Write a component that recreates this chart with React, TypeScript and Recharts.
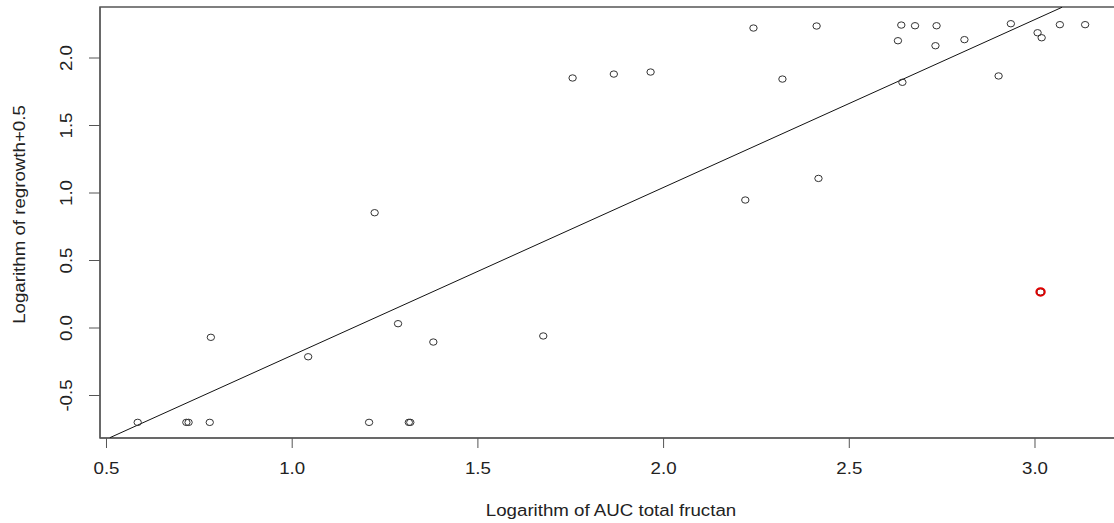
import { ReferenceArea, Scatter, ScatterChart, XAxis, YAxis } from 'recharts';

// log10 AUC total fructan vs log10(regrowth + 0.5)
const fructanLog = [
  0.584, 0.715, 0.721, 0.778, 1.207, 1.314, 1.318,
  0.781, 1.043, 1.222, 1.285, 1.38, 1.676, 1.755, 1.866, 1.965,
  2.22, 2.242, 2.32, 2.412, 2.417, 2.631, 2.64, 2.643, 2.677,
  2.732, 2.735, 2.81, 2.902, 2.935, 3.007, 3.018, 3.067, 3.135, 3.015,
];
const regrowthLog = [
  -0.699, -0.699, -0.699, -0.699, -0.699, -0.699, -0.699,
  -0.069, -0.213, 0.854, 0.032, -0.104, -0.059, 1.852, 1.881, 1.896,
  0.948, 2.222, 1.844, 2.237, 1.108, 2.128, 2.244, 1.82, 2.239,
  2.091, 2.239, 2.136, 1.867, 2.254, 2.187, 2.15, 2.247, 2.247, 0.267,
];
// highlighted observation
const outlierX = [3.015];
const outlierY = [0.267];

// fitted line y = a + b x, drawn between where it meets the plot box
const fitIntercept = -1.4456;
const fitSlope = 1.2436;
const fitEnds = [0.509, 3.073];

const xTicks = [0.5, 1.0, 1.5, 2.0, 2.5, 3.0];
const yTicks = [-0.5, 0.0, 0.5, 1.0, 1.5, 2.0];

const points = fructanLog.map((x, i) => ({ x, y: regrowthLog[i] }));
const outliers = outlierX.map((x, i) => ({ x, y: outlierY[i] }));
const fitLine = fitEnds.map((x) => ({ x, y: fitIntercept + fitSlope * x }));

const X_DOMAIN: [number, number] = [0.4825, 3.2289];
const Y_DOMAIN: [number, number] = [-0.8148, 2.3778];

const FONT = '"Liberation Sans", Arial, sans-serif';
const AXIS = '#555';
const INK = '#222';

function OpenCircle(props: { cx?: number; cy?: number }) {
  const { cx = 0, cy = 0 } = props;
  return <ellipse cx={cx} cy={cy} rx={3.7} ry={3.2} fill="none" stroke="#333" strokeWidth={1} />;
}

function RedCircle(props: { cx?: number; cy?: number }) {
  const { cx = 0, cy = 0 } = props;
  return <ellipse cx={cx} cy={cy} rx={4.2} ry={3.7} fill="none" stroke="#e00000" strokeWidth={2} />;
}

function NoShape() {
  return <g />;
}

function XTick(props: { x?: number; y?: number; payload?: { value: number } }) {
  const { x = 0, y = 0, payload } = props;
  return (
    <text
      transform={`translate(${x},${y + 24}) scale(1.1,1)`}
      textAnchor="middle"
      fontSize={17}
      fontFamily={FONT}
      fill={INK}
    >
      {payload ? payload.value.toFixed(1) : ''}
    </text>
  );
}

function YTick(props: { x?: number; y?: number; payload?: { value: number } }) {
  const { x = 0, y = 0, payload } = props;
  return (
    <text
      transform={`translate(${x - 15},${y}) rotate(-90) scale(1.1,1)`}
      textAnchor="middle"
      fontSize={17}
      fontFamily={FONT}
      fill={INK}
    >
      {payload ? payload.value.toFixed(1) : ''}
    </text>
  );
}

export default function App() {
  return (
    <div
      style={{
        position: 'absolute',
        left: 0,
        top: 0,
        width: 1114,
        height: 523,
        overflow: 'hidden',
        background: '#fff',
      }}
    >
      <ScatterChart width={1130} height={523} margin={{ top: 7, right: 10, bottom: 0, left: 0 }}>
        <XAxis
          type="number"
          dataKey="x"
          domain={X_DOMAIN}
          allowDataOverflow
          ticks={xTicks}
          interval={0}
          height={85}
          tickSize={10}
          stroke={AXIS}
          tick={<XTick />}
          label={{
            content: (p: { viewBox?: { x: number; y: number; width: number; height: number } }) => {
              const vb = p.viewBox || { x: 0, y: 0, width: 0, height: 0 };
              return (
                <text
                  transform={`translate(${vb.x + 511},${vb.y + 78}) scale(1.1,1)`}
                  textAnchor="middle"
                  fontSize={17}
                  fontFamily={FONT}
                  fill={INK}
                >
                  Logarithm of AUC total fructan
                </text>
              );
            },
          }}
        />
        <YAxis
          type="number"
          dataKey="y"
          domain={Y_DOMAIN}
          allowDataOverflow
          ticks={yTicks}
          interval={0}
          width={100}
          tickSize={11}
          stroke={AXIS}
          tick={<YTick />}
          label={{
            content: (p: { viewBox?: { x: number; y: number; width: number; height: number } }) => {
              const vb = p.viewBox || { x: 0, y: 0, width: 0, height: 0 };
              return (
                <text
                  transform={`translate(${vb.x + 25},${vb.y + vb.height / 2 - 8}) rotate(-90) scale(1.1,1)`}
                  textAnchor="middle"
                  fontSize={17}
                  fontFamily={FONT}
                  fill={INK}
                >
                  Logarithm of regrowth+0.5
                </text>
              );
            },
          }}
        />
        <ReferenceArea
          x1={X_DOMAIN[0]}
          x2={X_DOMAIN[1]}
          y1={Y_DOMAIN[0]}
          y2={Y_DOMAIN[1]}
          fill="none"
          fillOpacity={0}
          stroke={AXIS}
          strokeWidth={1.5}
        />
        <Scatter
          data={fitLine}
          line={{ stroke: '#111', strokeWidth: 1 }}
          shape={<NoShape />}
          isAnimationActive={false}
        />
        <Scatter data={points} shape={<OpenCircle />} isAnimationActive={false} />
        <Scatter data={outliers} shape={<RedCircle />} isAnimationActive={false} />
      </ScatterChart>
    </div>
  );
}
